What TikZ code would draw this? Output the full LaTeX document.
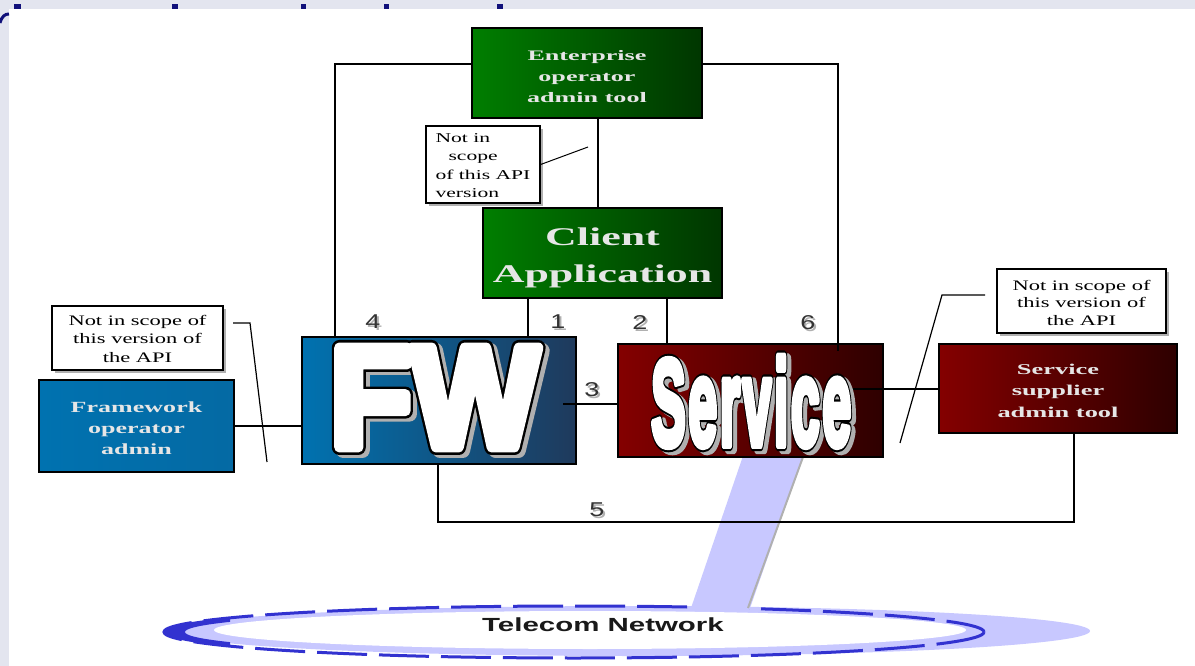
\documentclass[tikz,border=0pt]{standalone}
\usepackage{fontspec}
\setmainfont{Liberation Serif}
\newfontfamily\arialf{Liberation Sans}
\newfontfamily\bigwhiteF[FakeBold=7.5]{Liberation Sans Bold}
\newfontfamily\bigblackF[FakeBold=11]{Liberation Sans Bold}
\newfontfamily\bigwhiteS[FakeBold=6.5,LetterSpace=5]{Liberation Sans Bold}
\newfontfamily\bigblackS[FakeBold=10,LetterSpace=5]{Liberation Sans Bold}
\usepackage{graphicx}
\usetikzlibrary{shadows,calc}

\definecolor{slidebg}{HTML}{E3E5EF}
\definecolor{gL}{HTML}{007E00}
\definecolor{gR}{HTML}{003600}
\definecolor{bL}{HTML}{0072B0}
\definecolor{bR}{HTML}{1F3A5C}
\definecolor{rL}{HTML}{840000}
\definecolor{rR}{HTML}{2E0000}
\definecolor{lav}{HTML}{C8C8FF}
\definecolor{ringblue}{HTML}{3232D0}
\definecolor{navy}{HTML}{10107A}
\definecolor{shgray}{HTML}{B0B0B0}
\definecolor{labtext}{HTML}{E6E6E6}

\newcommand{\sx}[2]{\scalebox{#1}[1]{#2}}
% #1 downward shift, #2 horizontal stretch, #3 content
\newcommand{\boxtext}[3]{\raisebox{-#1}[\height][\depth]{\sx{#2}{#3}}}
\newcommand{\roundjoin}{\special{pdf:code 1 j 1 J}}

% #1 name, #2 x, #3 baseline y, #4 xscale, #5 size, #6 black font, #7 white font, #8 text
\newcommand{\bigword}[8]{%
  \node[bigw,text=shgray] at ({#2+4},{#3+3}) {\roundjoin#6\fontsize{#5}{#5}\selectfont\sx{#4}{#8}};
  \node[bigw,text=black] at (#2,#3) {\roundjoin#6\fontsize{#5}{#5}\selectfont\sx{#4}{#8}};
  \node[bigw,text=white] (#1) at (#2,#3) {\roundjoin#7\fontsize{#5}{#5}\selectfont\sx{#4}{#8}};
}
\newcommand{\numlab}[4]{%
  \node[num,text=shgray] at ({#2+2},{#3+2}) {\sx{1.35}{#4}};
  \node[num] (#1) at (#2,#3) {\sx{1.35}{#4}};
}

\begin{document}
\begin{tikzpicture}[x=1pt,y=-1pt,
  box/.style={draw=black, line width=1.3pt, inner sep=0pt, text=labtext, font=\bfseries, align=center},
  note/.style={draw=black, line width=1.3pt, fill=white, inner sep=0pt, align=center,
     drop shadow={shadow xshift=3pt, shadow yshift=-3pt, fill=shgray, opacity=1}},
  conn/.style={draw=black, line width=1.2pt},
  bigw/.style={anchor=base west, inner sep=0pt},
  num/.style={font=\arialf\fontsize{20}{20}\selectfont, text=black!80, inner sep=0pt}]
\useasboundingbox (0,0) rectangle (1195,666);
% slide background
\fill[slidebg] (0,0) rectangle (1195,666);
\fill[white] (9,9) rectangle (1195,666);
\foreach \a/\b in {14/21,172/178,301/306,384/389,497/503}{\fill[navy] (\a,4) rectangle (\b,9);}
\draw[navy,line width=3pt] (0,23) .. controls (2,16) and (5,14) .. (9,14);

% telecom network ellipse
\fill[lav] (630,631) ellipse [x radius=460, y radius=25];
\draw[ringblue, line width=3pt, dash pattern=on 50pt off 12pt] (574,632) ellipse [x radius=410, y radius=26];
\begin{scope}
  \clip (150,595) rectangle (230,670);
  \fill[ringblue, even odd rule] (574,632) ellipse [x radius=411, y radius=27] (586,632) ellipse [x radius=401, y radius=22];
\end{scope}
\fill[white] (590,630) ellipse [x radius=376, y radius=19];
\node[font=\arialf\bfseries\fontsize{19}{19}\selectfont, text=black!90, inner sep=0pt] (tel) at (603,625) {\sx{1.55}{Telecom Network}};

% beam
\fill[lav] (743,456) -- (803,456) -- (749,611) -- (690,611) -- cycle;
\draw[shgray, line width=2pt] (803,457) -- (748,608);

% boxes
\node[box, left color=gL, right color=gR, minimum width=230pt, minimum height=90pt] (ent) at (587,73)
  {\fontsize{14.5}{21}\selectfont\boxtext{4pt}{1.8}{\begin{tabular}{@{}c@{}}Enterprise\\operator\\admin tool\end{tabular}}};
\node[box, left color=gL, right color=gR, minimum width=239pt, minimum height=90pt] (cli) at (602.5,253)
  {\fontsize{25.5}{37}\selectfont\boxtext{4pt}{1.72}{\begin{tabular}{@{}c@{}}Client\\Application\end{tabular}}};
\node[box, left color=bL, right color=bL!85!bR, minimum width=195pt, minimum height=92pt] (fwadm) at (136.5,426)
  {\fontsize{15.5}{21}\selectfont\boxtext{3pt}{1.68}{\begin{tabular}{@{}c@{}}Framework\\operator\\admin\end{tabular}}};
\node[box, left color=bL, right color=bR, minimum width=274pt, minimum height=127pt] (fw) at (439,400.5) {};
\node[box, left color=rL, right color=rR, minimum width=265pt, minimum height=113pt] (svc) at (750.5,400.5) {};
\node[box, left color=rL, right color=rR, minimum width=238pt, minimum height=89pt] (sup) at (1058,388.5)
  {\fontsize{15}{21.5}\selectfont\boxtext{3pt}{1.76}{\begin{tabular}{@{}c@{}}Service\\supplier\\admin tool\end{tabular}}};

% notes
\node[note, minimum width=171pt, minimum height=64pt] (noteL) at (137.5,338)
  {\fontsize{14.5}{18.5}\selectfont\boxtext{2pt}{1.55}{\begin{tabular}{@{}c@{}}Not in scope of\\this version of\\the API\end{tabular}}};
\node[note, minimum width=169pt, minimum height=64pt] (noteR) at (1081.5,301)
  {\fontsize{14.5}{17.5}\selectfont\boxtext{3pt}{1.55}{\begin{tabular}{@{}c@{}}Not in scope of\\this version of\\the API\end{tabular}}};
\node[note, minimum width=114pt, minimum height=77pt] (noteT) at (483,164.5)
  {\fontsize{13.5}{18.5}\selectfont\boxtext{2pt}{1.6}{\begin{tabular}{@{}l@{}}Not in\\\hspace{0.6em}scope\\of this API\\version\end{tabular}}};

% connectors
\coordinate (hl) at (335,64);
\coordinate (hr) at (838,64);
\coordinate (vx) at (598,0);
\coordinate (c1) at (528,0);
\coordinate (c2) at (667,0);
\draw[conn] (ent.west |- hl) -- (hl) -- (hl |- fw.north);
\draw[conn] (ent.east |- hr) -- (hr) -- ($(hr |- svc.north)+(0,8)$);
\draw[conn] (ent.south -| vx) -- (cli.north -| vx);
\draw[conn] (cli.south -| c1) -- (fw.north -| c1);
\draw[conn] (cli.south -| c2) -- (svc.north -| c2);
\draw[conn] (fwadm.east) -- (fwadm.east -| fw.west);
\coordinate (p3) at (563,404);
\draw[conn] (p3) -- (p3 -| svc.west);
\coordinate (p8) at (846,389);
\draw[conn] (p8) -- (p8 -| sup.west);
\coordinate (p5) at (438,522);
\coordinate (q5) at (1074,522);
\draw[conn] (p5 |- fw.south) -- (p5) -- (q5) -- (q5 |- sup.south);
% note leaders
\coordinate (nt) at (588,147);
\draw[conn, line width=1pt] (noteT.east) -- (nt);
\coordinate (nl1) at (233,323);
\coordinate (nl2) at (250,323);
\coordinate (nl3) at (267,462);
\draw[conn] (nl1) -- (nl2) -- (nl3);
\coordinate (nr1) at (985,295);
\coordinate (nr2) at (942,295);
\coordinate (nr3) at (900,443);
\draw[conn] (nr1) -- (nr2) -- (nr3);

% big words
\bigword{fwword}{330}{447}{0.93}{144}{\bigblackF}{\bigwhiteF}{FW}
\bigword{svcword}{651}{445}{0.425}{122}{\bigblackS}{\bigwhiteS}{Service}

% interface numbers
\numlab{n4}{373}{322}{4}
\numlab{n1}{558}{322}{1}
\numlab{n2}{640}{323}{2}
\numlab{n6}{808}{323}{6}
\numlab{n3}{592}{390}{3}
\numlab{n5}{597}{510}{5}
\end{tikzpicture}
\end{document}
